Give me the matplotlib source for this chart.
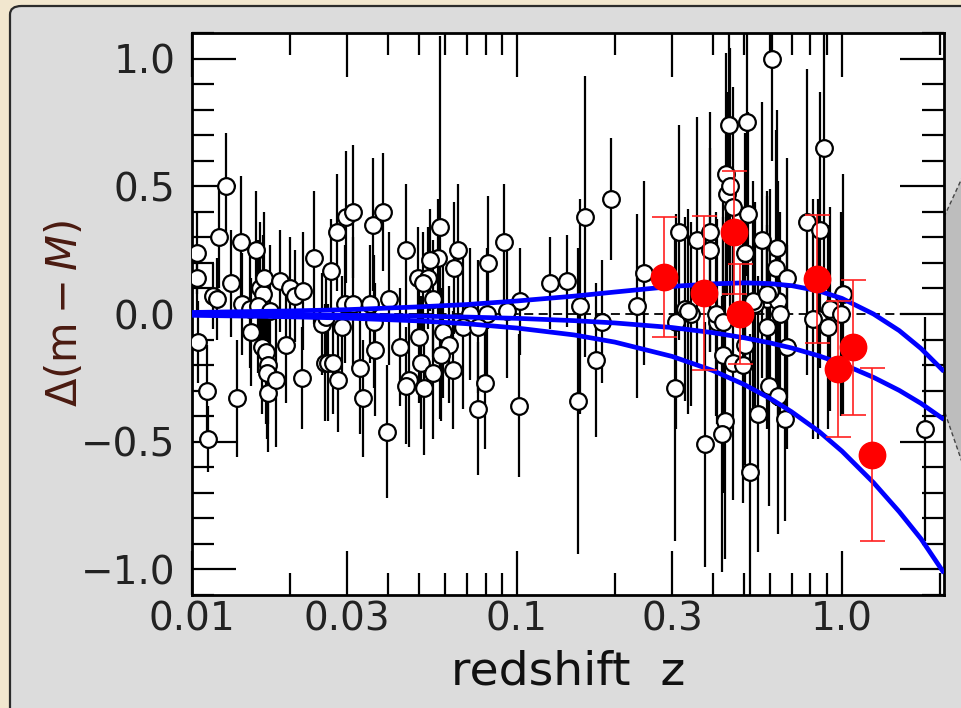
import numpy as np
import matplotlib
matplotlib.use('Agg')
import matplotlib.pyplot as plt
from matplotlib.patches import FancyBboxPatch, Polygon
from matplotlib.ticker import FixedLocator, FixedFormatter, NullFormatter

# ---------------- data ----------------
sn_z = [0.01036, 0.01036, 0.01043, 0.01111, 0.01119, 0.01159, 0.01195, 0.01212, 0.01268, 0.01316,
        0.01372, 0.01412, 0.01422, 0.01510, 0.01521, 0.01576, 0.01623, 0.01650, 0.01600, 0.01740,
        0.01647, 0.01695, 0.01719, 0.01700, 0.01719, 0.01819, 0.01671, 0.01872, 0.01941, 0.02001,
        0.02074, 0.02183, 0.02199, 0.02368, 0.02520, 0.02580, 0.02565, 0.02620, 0.02677, 0.02716,
        0.02795, 0.02815, 0.02899, 0.02962, 0.02984, 0.03131, 0.03131, 0.03291, 0.03361, 0.03600,
        0.03662,
        0.03879, 0.04547, 0.05790, 0.06604, 0.05709, 0.05396, 0.06380, 0.08164, 0.09119, 0.04956,
        0.05320, 0.05136, 0.04048, 0.03537, 0.10215, 0.05512, 0.03637, 0.07185, 0.08105, 0.09315,
        0.06840, 0.07605, 0.05914, 0.04991, 0.06163, 0.04363, 0.05831, 0.05063, 0.06335, 0.05512,
        0.04641, 0.04547, 0.05172, 0.07993, 0.07605, 0.10142, 0.03991,
        0.19453, 0.16200, 0.12656, 0.14264, 0.24601, 0.15642, 0.23393, 0.18258, 0.30870, 0.32910,
        0.34330, 0.17504, 0.15421, 0.30660, 0.31530, 0.35840, 0.37940,
        0.6086, 0.4496, 0.5097, 0.8803, 0.4401, 0.4433, 0.4528, 0.4625, 0.5133, 0.7806,
        0.8557, 0.3930, 0.3930, 0.5026, 0.5670, 0.6305, 0.6260, 0.6772, 0.5874, 0.6350,
        0.6000, 0.5395, 0.6441, 0.5874, 0.4128, 0.8437, 0.9055, 0.6772, 0.5026, 0.4308,
        0.4625, 0.4956, 0.5958, 0.6350, 0.5511, 0.6676, 0.4370, 0.4277, 0.5205, 1.0071,
        0.9185, 1.8000, 0.3360, 0.4100, 0.4300, 0.5320, 0.5874, 0.8140, 0.9950]
sn_dm = [0.24, 0.14, -0.11, -0.30, -0.49, 0.07, 0.06, 0.30, 0.50, 0.12,
         -0.33, 0.28, 0.04, 0.02, -0.07, 0.25, 0.10, 0.08, 0.03, 0.01,
         -0.13, -0.15, -0.20, -0.23, -0.31, -0.26, 0.14, 0.13, -0.12, 0.10,
         0.07, -0.25, 0.09, 0.22, -0.04, -0.01, -0.19, -0.19, 0.17, -0.19,
         0.32, -0.26, -0.05, 0.04, 0.38, 0.40, 0.04, -0.21, -0.33, 0.35,
         -0.14,
         0.40, 0.25, 0.34, 0.25, 0.22, 0.21, 0.18, 0.20, 0.28, 0.14,
         0.14, 0.12, 0.06, 0.04, 0.05, 0.06, -0.03, 0.00, 0.00, 0.01,
         -0.05, -0.05, -0.07, -0.09, -0.12, -0.13, -0.16, -0.19, -0.22, -0.23,
         -0.26, -0.28, -0.29, -0.27, -0.37, -0.36, -0.46,
         0.45, 0.38, 0.12, 0.13, 0.16, 0.03, 0.03, -0.03, -0.03, 0.02,
         0.00, -0.18, -0.34, -0.29, 0.32, 0.29, -0.51,
         1.00, 0.74, 0.75, 0.65, 0.55, 0.47, 0.50, 0.42, 0.39, 0.36,
         0.33, 0.32, 0.25, 0.24, 0.29, 0.26, 0.18, 0.14, 0.06, 0.05,
         0.09, 0.04, 0.00, -0.05, -0.03, -0.02, -0.05, -0.13, -0.12, -0.16,
         -0.19, -0.20, -0.28, -0.32, -0.39, -0.41, -0.42, -0.47, -0.62, 0.08,
         0.02, -0.45, 0.01, 0.00, -0.03, 0.05, 0.08, -0.02, 0.00]
sn_err = [0.16, 0.13, 0.16, 0.18, 0.13, 0.13, 0.16, 0.20, 0.21, 0.21,
          0.23, 0.26, 0.20, 0.23, 0.21, 0.23, 0.26, 0.23, 0.26, 0.26,
          0.26, 0.28, 0.23, 0.26, 0.23, 0.26, 0.26, 0.20, 0.23, 0.20,
          0.18, 0.20, 0.23, 0.26, 0.20, 0.20, 0.23, 0.23, 0.20, 0.20,
          0.23, 0.20, 0.20, 0.23, 0.26, 0.26, 0.26, 0.26, 0.23, 0.26,
          0.26,
          0.23, 0.26, 0.75, 0.26, 0.23, 0.20, 0.26, 0.26, 0.23, 0.20,
          0.20, 0.20, 0.26, 0.23, 0.21, 0.23, 0.26, 0.26, 0.26, 0.26,
          0.32, 0.26, 0.26, 0.26, 0.23, 0.23, 0.26, 0.26, 0.23, 0.26,
          0.26, 0.23, 0.26, 0.26, 0.26, 0.28, 0.26,
          0.24, 0.55, 0.18, 0.18, 0.36, 0.42, 0.36, 0.24, 0.42, 0.36,
          0.36, 0.30, 0.60, 0.60, 0.42, 0.48, 0.48,
          0.40, 0.55, 0.60, 0.50, 0.47, 0.40, 0.54, 0.47, 0.40, 0.60,
          0.54, 0.47, 0.40, 0.47, 0.54, 0.54, 0.54, 0.47, 0.40, 0.47,
          0.40, 0.40, 0.40, 0.40, 0.40, 0.47, 0.40, 0.40, 0.47, 0.54,
          0.54, 0.54, 0.47, 0.54, 0.54, 0.40, 0.54, 0.54, 0.54, 0.47,
          0.40, 0.44, 0.40, 0.40, 0.47, 0.47, 0.40, 0.47, 0.40]

hiz_z = [0.283, 0.376, 0.466, 0.485, 0.838, 0.970, 1.080, 1.240]
hiz_dm = [0.145, 0.082, 0.320, 0.000, 0.137, -0.215, -0.130, -0.550]
hiz_err = [0.235, 0.300, 0.240, 0.195, 0.250, 0.265, 0.265, 0.340]

model_z = [0.01, 0.02, 0.03, 0.05, 0.07, 0.1, 0.15, 0.2, 0.3, 0.4, 0.5, 0.6, 0.7,
           0.85, 1.0, 1.25, 1.5, 1.75, 2.06]
model_lambda = [0.006, 0.012, 0.017, 0.028, 0.037, 0.051, 0.070, 0.086, 0.108, 0.118, 0.122,
                0.119, 0.111, 0.090, 0.061, 0.000, -0.065, -0.135, -0.225]
model_open = [-0.002, -0.003, -0.005, -0.008, -0.012, -0.017, -0.026, -0.035, -0.053, -0.073,
              -0.093, -0.113, -0.133, -0.164, -0.195, -0.248, -0.299, -0.350, -0.413]
model_eds = [-0.005, -0.011, -0.016, -0.027, -0.038, -0.055, -0.082, -0.110, -0.166, -0.221,
             -0.276, -0.330, -0.383, -0.460, -0.537, -0.660, -0.774, -0.880, -1.014]

xtick_vals = [0.01, 0.03, 0.1, 0.3, 1.0]
xtick_labels = ['0.01', '0.03', '0.1', '0.3', '1.0']
xminor_vals = [0.02, 0.04, 0.05, 0.06, 0.07, 0.08, 0.09, 0.2, 0.4, 0.5, 0.6, 0.7, 0.8, 0.9, 2.0]
ytick_vals = [-1.0, -0.5, 0.0, 0.5, 1.0]
ytick_labels = ['\u22121.0', '\u22120.5', '0.0', '0.5', '1.0']

# ---------------- figure ----------------
W, H = 962, 708
fig = plt.figure(figsize=(W / 100, H / 100), dpi=100)
fig.patch.set_facecolor('#f2e7cf')

panel = FancyBboxPatch((10 / W, -0.05), 1.2, (H - 6) / H + 0.05,
                       boxstyle='round,pad=0,rounding_size=0.012',
                       transform=fig.transFigure, facecolor='#dcdcdc',
                       edgecolor='#2b2b2b', linewidth=1.6, zorder=0)
fig.patches.append(panel)

pointer = Polygon([(944 / W, 1 - 217 / H), (1.0, 1 - 178 / H), (1.0, 1 - 462 / H), (944 / W, 1 - 410 / H)],
                  closed=True, transform=fig.transFigure, facecolor='#bdbdbd',
                  edgecolor='#444444', linewidth=1.0, linestyle=(0, (3, 2)), zorder=1)
fig.patches.append(pointer)

ax = fig.add_axes([192 / W, 1 - 595 / H, (944 - 192) / W, (595 - 33) / H])
ax.set_facecolor('white')
ax.set_zorder(2)

ax.set_xscale('log')
ax.set_xlim(0.01, 2.06)
ax.set_ylim(-1.1, 1.1)

# black points
sz = np.array(sn_z); sd = np.array(sn_dm); se = np.array(sn_err)
ax.vlines(sz, sd - se, sd + se, colors='black', linewidth=1.6, zorder=2)
ax.axhline(0.0, color='black', linewidth=1.3, linestyle=(0, (5, 3)), zorder=2.5)
ax.plot(sz, sd, 'o', ms=12, mfc='white', mec='black', mew=1.6, linestyle='none', zorder=3)

# model curves
for m in (model_lambda, model_open, model_eds):
    ax.plot(model_z, m, color='#0000ff', linewidth=3.4, zorder=4, solid_capstyle='butt')

# high-z points
ax.errorbar(hiz_z, hiz_dm, yerr=hiz_err, fmt='o', ms=19, color='#ff0000', mec='#ff0000',
            ecolor='#ff2020', elinewidth=1.2, capsize=9, capthick=1.2, zorder=5)

# ticks
ax.xaxis.set_major_locator(FixedLocator(xtick_vals))
ax.xaxis.set_major_formatter(FixedFormatter(xtick_labels))
ax.xaxis.set_minor_locator(FixedLocator(xminor_vals))
ax.xaxis.set_minor_formatter(NullFormatter())
ax.yaxis.set_major_locator(FixedLocator(ytick_vals))
ax.yaxis.set_major_formatter(FixedFormatter(ytick_labels))
ax.yaxis.set_minor_locator(FixedLocator(np.round(np.arange(-1.1, 1.11, 0.1), 2)))

ax.tick_params(which='both', direction='in', top=True, right=True, color='black', width=1.6)
ax.tick_params(which='major', length=32)
ax.tick_params(which='minor', length=16)
ax.tick_params(axis='y', which='major', labelsize=28, pad=12, labelcolor='#222222')
ax.tick_params(axis='x', which='major', labelsize=28, pad=4, labelcolor='#222222')

for s in ax.spines.values():
    s.set_linewidth(2.0)
    s.set_color('black')

ax.set_xlabel('redshift  z', fontsize=34, color='#111111', labelpad=8)
ax.set_ylabel(r'$\Delta(\mathrm{m}-M)$', fontsize=30, color='#4a1a10', labelpad=-4)

fig.savefig('out.png', dpi=100, facecolor=fig.get_facecolor())
